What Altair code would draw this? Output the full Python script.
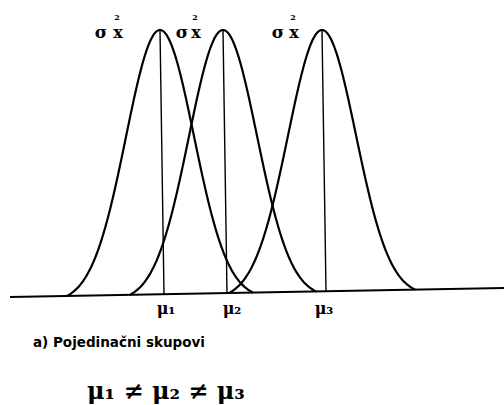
import altair as alt
import numpy as np
import pandas as pd

# Canvas-style coordinate frame: x to the right, y downward
W, H = 504, 405

# Three normal populations: means, spread and common peak
means = [160, 223, 322]
sigma = 34
half_span = 93
peak_y = 30

# Baseline (slightly tilted in the printed figure)
base_x = [10, 504]
base_y = [297, 288]

mu_labels = ["μ\u2081", "μ\u2082", "μ\u2083"]
mu_label_x = [166, 232, 324]
sigma_x = [101, 182, 278]
x_sub_x = [118, 196, 294]
caption = "a) Pojedinačni skupovi"
formula = "μ\u2081 \u2260 μ\u2082 \u2260 μ\u2083"


def base_at(x):
    return base_y[0] + (base_y[1] - base_y[0]) * (x - base_x[0]) / (base_x[1] - base_x[0])


rows = []
edge = np.exp(-0.5 * (half_span / sigma) ** 2)
for i, m in enumerate(means):
    xs = np.linspace(m - half_span, m + half_span, 241)
    g = (np.exp(-0.5 * ((xs - m) / sigma) ** 2) - edge) / (1 - edge)
    for x, v in zip(xs, g):
        b = base_at(x)
        rows.append({"curve": i, "x": x, "y": b - v * (b - peak_y)})
curves = pd.DataFrame(rows)

xs_scale = alt.Scale(domain=[0, W], nice=False, zero=False)
ys_scale = alt.Scale(domain=[0, H], reverse=True, nice=False, zero=False)
X = lambda f: alt.X(f, type="quantitative", scale=xs_scale, axis=None)
Y = lambda f: alt.Y(f, type="quantitative", scale=ys_scale, axis=None)

curve_layer = alt.Chart(curves).mark_line(
    color="black", strokeWidth=2.2, interpolate="monotone"
).encode(x=X("x"), y=Y("y"), detail="curve:N")

baseline = alt.Chart(pd.DataFrame({
    "x": [base_x[0]], "x2": [base_x[1]], "y": [base_y[0]], "y2": [base_y[1]]
})).mark_rule(color="black", strokeWidth=2.2).encode(
    x=X("x"), x2="x2", y=Y("y"), y2="y2"
)

verticals = alt.Chart(pd.DataFrame({
    "x": means,
    "x2": [m + 4 for m in means],
    "y": [peak_y] * 3,
    "y2": [base_at(m) for m in means],
})).mark_rule(color="black", strokeWidth=1.4).encode(
    x=X("x"), x2="x2", y=Y("y"), y2="y2"
)

sig_text = alt.Chart(pd.DataFrame({"x": sigma_x, "y": [33] * 3, "t": ["σ"] * 3})).mark_text(
    font="DejaVu Serif", fontSize=17, fontWeight="bold", color="black"
).encode(x=X("x"), y=Y("y"), text="t:N")

xsub_text = alt.Chart(pd.DataFrame({"x": x_sub_x, "y": [33] * 3, "t": ["x"] * 3})).mark_text(
    font="DejaVu Serif", fontSize=16, fontWeight="bold", color="black"
).encode(x=X("x"), y=Y("y"), text="t:N")

sup_text = alt.Chart(pd.DataFrame({"x": [x - 1 for x in x_sub_x], "y": [18] * 3, "t": ["2"] * 3})).mark_text(
    font="DejaVu Serif", fontSize=8, fontWeight="bold", color="black"
).encode(x=X("x"), y=Y("y"), text="t:N")

mu_text = alt.Chart(pd.DataFrame({"x": mu_label_x, "y": [309] * 3, "t": mu_labels})).mark_text(
    font="DejaVu Serif", fontSize=16, fontWeight="bold", color="black"
).encode(x=X("x"), y=Y("y"), text="t:N")

cap_text = alt.Chart(pd.DataFrame({"x": [33], "y": [343], "t": [caption]})).mark_text(
    font="DejaVu Sans", fontSize=13.5, fontWeight="bold", color="black", align="left"
).encode(x=X("x"), y=Y("y"), text="t:N")

form_text = alt.Chart(pd.DataFrame({"x": [87], "y": [392], "t": [formula]})).mark_text(
    font="DejaVu Serif", fontSize=24, fontWeight="bold", color="black", align="left"
).encode(x=X("x"), y=Y("y"), text="t:N")

chart = alt.layer(
    curve_layer, baseline, verticals, sig_text, xsub_text, sup_text, mu_text, cap_text, form_text
).properties(
    width=W, height=H, padding=0, autosize=alt.AutoSizeParams(type="none"),
    background="white"
).configure_view(stroke=None)

chart.save("out.html", embed_options={"renderer": "svg", "actions": False})
